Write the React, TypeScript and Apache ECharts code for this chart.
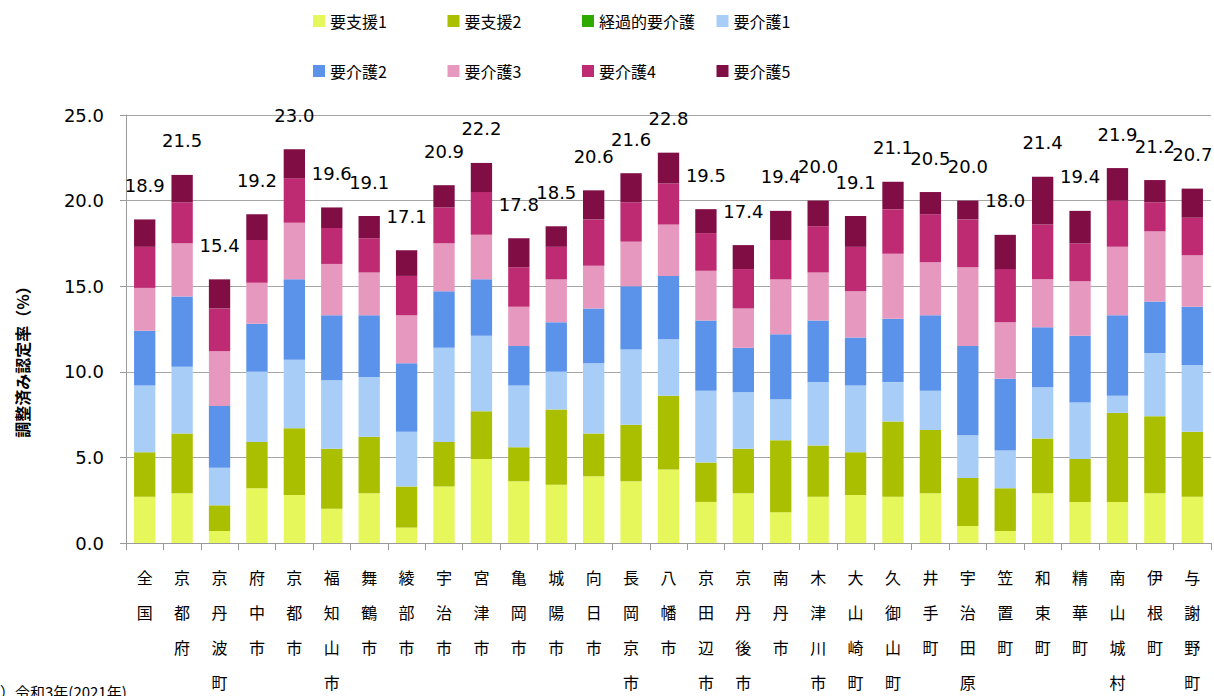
import React, { useEffect, useRef } from "react";
import * as echarts from "echarts";

const categories = [
  "全国", "京都府", "京丹波町", "府中市", "京都市", "福知山市", "舞鶴市", "綾部市", "宇治市", "宮津市",
  "亀岡市", "城陽市", "向日市", "長岡京市", "八幡市", "京田辺市", "京丹後市", "南丹市", "木津川市", "大山崎町",
  "久御山町", "井手町", "宇治田原町", "笠置町", "和束町", "精華町", "南山城村", "伊根町", "与謝野町",
];

const seriesNames = ["要支援1", "要支援2", "経過的要介護", "要介護1", "要介護2", "要介護3", "要介護4", "要介護5"];

const yoshien1 = [2.7, 2.9, 0.7, 3.2, 2.8, 2.0, 2.9, 0.9, 3.3, 4.9, 3.6, 3.4, 3.9, 3.6, 4.3, 2.4, 2.9, 1.8, 2.7, 2.8, 2.7, 2.9, 1.0, 0.7, 2.9, 2.4, 2.4, 2.9, 2.7];
const yoshien2 = [2.6, 3.5, 1.5, 2.7, 3.9, 3.5, 3.3, 2.4, 2.6, 2.8, 2.0, 4.4, 2.5, 3.3, 4.3, 2.3, 2.6, 4.2, 3.0, 2.5, 4.4, 3.7, 2.8, 2.5, 3.2, 2.5, 5.2, 4.5, 3.8];
const keika = [0, 0, 0, 0, 0, 0, 0, 0, 0, 0, 0, 0, 0, 0, 0, 0, 0, 0, 0, 0, 0, 0, 0, 0, 0, 0, 0, 0, 0];
const kaigo1 = [3.9, 3.9, 2.2, 4.1, 4.0, 4.0, 3.5, 3.2, 5.5, 4.4, 3.6, 2.2, 4.1, 4.4, 3.3, 4.2, 3.3, 2.4, 3.7, 3.9, 2.3, 2.3, 2.5, 2.2, 3.0, 3.3, 1.0, 3.7, 3.9];
const kaigo2 = [3.2, 4.1, 3.6, 2.8, 4.7, 3.8, 3.6, 4.0, 3.3, 3.3, 2.3, 2.9, 3.2, 3.7, 3.7, 4.1, 2.6, 3.8, 3.6, 2.8, 3.7, 4.4, 5.2, 4.2, 3.5, 3.9, 4.7, 3.0, 3.4];
const kaigo3 = [2.5, 3.1, 3.2, 2.4, 3.3, 3.0, 2.5, 2.8, 2.8, 2.6, 2.3, 2.5, 2.5, 2.6, 3.0, 2.9, 2.3, 3.2, 2.8, 2.7, 3.8, 3.1, 4.6, 3.3, 2.8, 3.2, 4.0, 4.1, 3.0];
const kaigo4 = [2.4, 2.4, 2.5, 2.5, 2.6, 2.1, 2.0, 2.3, 2.1, 2.5, 2.3, 1.9, 2.7, 2.3, 2.4, 2.2, 2.3, 2.3, 2.7, 2.6, 2.6, 2.8, 2.8, 3.1, 3.2, 2.2, 2.7, 1.7, 2.2];
const kaigo5 = [1.6, 1.6, 1.7, 1.5, 1.7, 1.2, 1.3, 1.5, 1.3, 1.7, 1.7, 1.2, 1.7, 1.7, 1.8, 1.4, 1.4, 1.7, 1.5, 1.8, 1.6, 1.3, 1.1, 2.0, 2.8, 1.9, 1.9, 1.3, 1.7];

const yTicks = [0, 5, 10, 15, 20, 25];

const colors = ["#E5F75A", "#AABF00", "#2EAA00", "#A8CEF7", "#5B93EB", "#E698BE", "#BE2B73", "#800D44"];

const NUM_FONT = "'DejaVu Sans', Verdana, sans-serif";
const JP_FONT = "'Noto Sans CJK JP', sans-serif";

export default function App() {
  const ref = useRef<HTMLDivElement>(null);

  useEffect(() => {
    if (!ref.current) return;
    const chart = echarts.init(ref.current, null, { renderer: "svg" });
    const allData = [yoshien1, yoshien2, keika, kaigo1, kaigo2, kaigo3, kaigo4, kaigo5];
    const totals = categories.map((_, i) => allData.reduce((s, arr) => s + arr[i], 0));

    const series = seriesNames.map((name, si) => ({
      name,
      type: "bar",
      stack: "total",
      barWidth: "57%",
      data: allData[si],
      itemStyle: { color: colors[si] },
      label:
        si === seriesNames.length - 1
          ? {
              show: true,
              position: "top",
              distance: 25,
              formatter: (p: any) => totals[p.dataIndex].toFixed(1),
              fontFamily: NUM_FONT,
              fontSize: 18,
              color: "#000",
            }
          : { show: false },
    }));

    const legends = seriesNames.map((name, i) => ({
      data: [name],
      left: 313 + (i % 4) * 134.5,
      top: i < 4 ? 13 : 63,
      padding: 0,
      itemWidth: 12,
      itemHeight: 12,
      itemGap: 0,
      icon: "rect",
      textStyle: { fontFamily: JP_FONT, fontSize: 16, color: "#000", padding: [0, 0, 0, 0] },
      selectedMode: false,
    }));

    chart.setOption({
      animation: false,
      color: colors,
      legend: legends,
      grid: { left: 126, right: 3, top: 115, bottom: 153, containLabel: false, outerBoundsMode: "none" },
      xAxis: {
        type: "category",
        data: categories,
        axisLine: { show: true, lineStyle: { color: "#9a9a9a", width: 1 } },
        axisTick: { show: true, length: 7, lineStyle: { color: "#9a9a9a" } },
        axisLabel: {
          interval: 0,
          margin: 16,
          fontFamily: JP_FONT,
          fontSize: 16,
          lineHeight: 35,
          color: "#000",
          formatter: (v: string) => v.split("").join("\n"),
        },
      },
      yAxis: {
        type: "value",
        min: yTicks[0],
        max: yTicks[yTicks.length - 1],
        interval: 5,
        axisLine: { show: true, lineStyle: { color: "#9a9a9a" } },
        axisTick: { show: true, length: 6, lineStyle: { color: "#9a9a9a" } },
        splitLine: { show: true, lineStyle: { color: "#a6a6a6", width: 1 } },
        axisLabel: {
          margin: 22,
          fontFamily: NUM_FONT,
          fontSize: 18,
          color: "#000",
          formatter: (v: number) => v.toFixed(1),
        },
      },
      graphic: [
        {
          type: "text",
          x: 22,
          y: 358,
          rotation: Math.PI / 2,
          style: {
            text: "調整済み認定率（%）",
            fontFamily: JP_FONT,
            fontWeight: "bold",
            fontSize: 16,
            fill: "#000",
            textAlign: "center",
            textVerticalAlign: "middle",
          },
        },
        {
          type: "text",
          x: 0,
          y: 684,
          style: {
            text: "）令和3年(2021年)",
            fontFamily: JP_FONT,
            fontSize: 15,
            fill: "#000",
            textAlign: "left",
            textVerticalAlign: "top",
          },
        },
      ],
      series,
    });
    return () => chart.dispose();
  }, []);

  return (
    <div
      ref={ref}
      style={{ position: "fixed", left: 0, top: 0, width: 1214, height: 696, background: "#fff" }}
    />
  );
}
